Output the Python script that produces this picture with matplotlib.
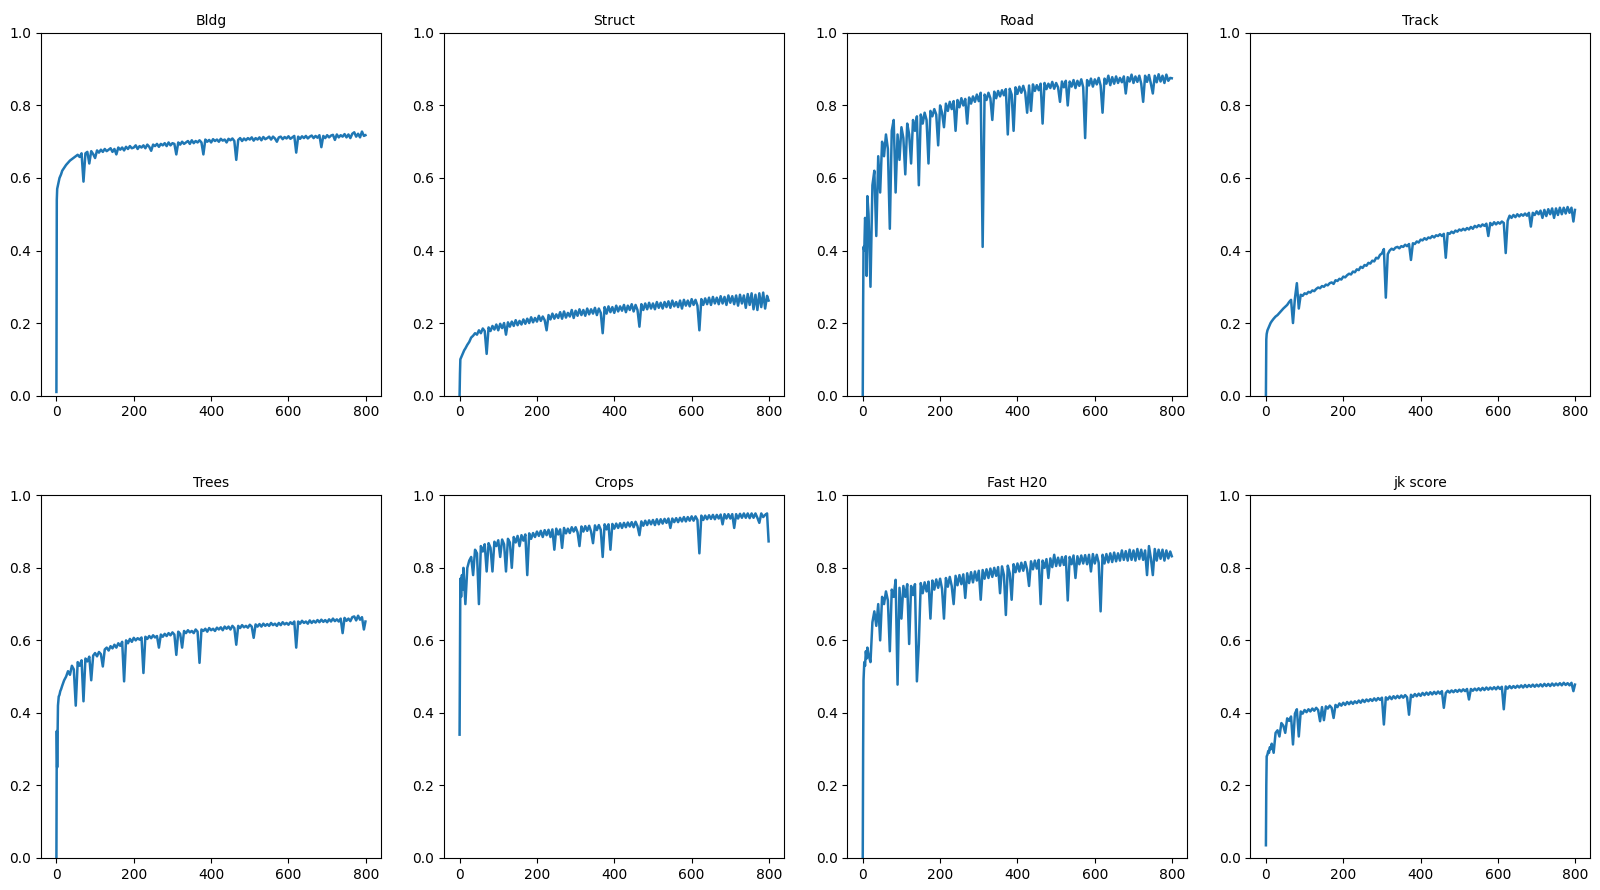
import matplotlib
matplotlib.use("Agg")
import matplotlib.pyplot as plt

epochs = [0, 1, 2, 4, 6, 8, 10, 12, 15] + list(range(20, 800, 5)) + [799]

titles = ["Bldg", "Struct", "Road", "Track", "Trees", "Crops", "Fast H20", "jk score"]

bldg = [0.01, 0.54, 0.57, 0.58, 0.59, 0.60, 0.605, 0.61, 0.62,
        0.628, 0.636, 0.642, 0.648, 0.652, 0.656, 0.66, 0.664, 0.658, 0.668,
        0.59, 0.668, 0.672, 0.64, 0.674, 0.666, 0.655, 0.676, 0.67, 0.678,
        0.672, 0.68, 0.674, 0.678, 0.682, 0.672, 0.68, 0.665, 0.684, 0.678,
        0.684, 0.676, 0.686, 0.68, 0.688, 0.682, 0.684, 0.69, 0.68, 0.688,
        0.684, 0.69, 0.682, 0.692, 0.686, 0.675, 0.692, 0.688, 0.694, 0.686,
        0.694, 0.69, 0.696, 0.688, 0.698, 0.69, 0.696, 0.694, 0.665, 0.698,
        0.692, 0.70, 0.694, 0.698, 0.702, 0.694, 0.704, 0.696, 0.702, 0.698,
        0.704, 0.698, 0.665, 0.706, 0.70, 0.705, 0.698, 0.707, 0.702, 0.706,
        0.70, 0.708, 0.703, 0.706, 0.698, 0.708, 0.704, 0.709, 0.702, 0.65,
        0.705, 0.71, 0.702, 0.709, 0.704, 0.71, 0.706, 0.712, 0.703, 0.71,
        0.706, 0.712, 0.704, 0.713, 0.707, 0.71, 0.714, 0.706, 0.714, 0.709,
        0.70, 0.712, 0.714, 0.707, 0.713, 0.709, 0.715, 0.708, 0.712, 0.716,
        0.67, 0.714, 0.708, 0.715, 0.71, 0.716, 0.709, 0.714, 0.717, 0.71,
        0.716, 0.711, 0.718, 0.685, 0.716, 0.71, 0.718, 0.712, 0.717, 0.719,
        0.705, 0.72, 0.712, 0.718, 0.714, 0.721, 0.712, 0.72, 0.71, 0.722,
        0.726, 0.714, 0.722, 0.712, 0.728, 0.716,
        0.718]

struct = [0.0, 0.06, 0.10, 0.105, 0.11, 0.115, 0.12, 0.125, 0.13,
          0.14, 0.148, 0.16, 0.165, 0.172, 0.168, 0.18, 0.172, 0.185, 0.178,
          0.115, 0.188, 0.178, 0.192, 0.182, 0.196, 0.18, 0.198, 0.186, 0.20,
          0.168, 0.202, 0.19, 0.204, 0.192, 0.208, 0.194, 0.206, 0.196, 0.21,
          0.198, 0.212, 0.20, 0.216, 0.202, 0.214, 0.204, 0.22, 0.206, 0.218,
          0.208, 0.18, 0.222, 0.21, 0.226, 0.212, 0.224, 0.214, 0.23, 0.212,
          0.232, 0.215, 0.228, 0.218, 0.236, 0.214, 0.234, 0.22, 0.238, 0.222,
          0.236, 0.22, 0.24, 0.224, 0.238, 0.226, 0.242, 0.222, 0.24, 0.228,
          0.172, 0.244, 0.226, 0.246, 0.23, 0.244, 0.228, 0.248, 0.232, 0.246,
          0.234, 0.25, 0.23, 0.248, 0.236, 0.252, 0.232, 0.25, 0.236, 0.19,
          0.252, 0.236, 0.254, 0.238, 0.256, 0.24, 0.254, 0.238, 0.258, 0.242,
          0.256, 0.24, 0.258, 0.244, 0.26, 0.242, 0.262, 0.246, 0.258, 0.244,
          0.262, 0.24, 0.264, 0.248, 0.262, 0.246, 0.266, 0.25, 0.264, 0.248,
          0.18, 0.266, 0.25, 0.268, 0.252, 0.27, 0.25, 0.272, 0.254, 0.27,
          0.252, 0.274, 0.254, 0.272, 0.25, 0.276, 0.256, 0.274, 0.252, 0.276,
          0.248, 0.278, 0.254, 0.276, 0.242, 0.28, 0.25, 0.282, 0.238, 0.278,
          0.236, 0.282, 0.244, 0.284, 0.24, 0.275,
          0.262]

road = [0.0, 0.25, 0.41, 0.40, 0.49, 0.47, 0.33, 0.55, 0.50,
        0.30, 0.58, 0.62, 0.44, 0.66, 0.56, 0.70, 0.66, 0.72, 0.68,
        0.46, 0.73, 0.76, 0.56, 0.72, 0.65, 0.74, 0.71, 0.61, 0.75,
        0.72, 0.64, 0.76, 0.73, 0.77, 0.58, 0.775, 0.75, 0.78, 0.76,
        0.64, 0.785, 0.77, 0.79, 0.775, 0.69, 0.80, 0.78, 0.74, 0.805,
        0.785, 0.81, 0.79, 0.812, 0.73, 0.815, 0.795, 0.82, 0.80, 0.818,
        0.75, 0.822, 0.805, 0.825, 0.81, 0.83, 0.812, 0.835, 0.41, 0.83,
        0.815, 0.835, 0.82, 0.76, 0.838, 0.82, 0.84, 0.825, 0.842, 0.828,
        0.845, 0.72, 0.846, 0.83, 0.73, 0.85, 0.832, 0.852, 0.835, 0.854,
        0.836, 0.78, 0.855, 0.785, 0.858, 0.84, 0.856, 0.842, 0.86, 0.75,
        0.862, 0.845, 0.86, 0.848, 0.865, 0.846, 0.862, 0.85, 0.81, 0.866,
        0.85, 0.868, 0.80, 0.866, 0.852, 0.87, 0.848, 0.868, 0.854, 0.872,
        0.85, 0.71, 0.87, 0.855, 0.874, 0.852, 0.872, 0.858, 0.876, 0.855,
        0.78, 0.874, 0.86, 0.882, 0.856, 0.878, 0.86, 0.88, 0.862, 0.876,
        0.864, 0.88, 0.833, 0.878, 0.866, 0.885, 0.862, 0.88, 0.865, 0.882,
        0.86, 0.81, 0.882, 0.865, 0.884, 0.86, 0.833, 0.882, 0.864, 0.886,
        0.866, 0.882, 0.862, 0.885, 0.868, 0.876,
        0.875]

track = [0.0, 0.155, 0.17, 0.18, 0.185, 0.19, 0.195, 0.20, 0.205,
         0.212, 0.218, 0.222, 0.228, 0.234, 0.24, 0.245, 0.25, 0.258, 0.264,
         0.20, 0.268, 0.31, 0.24, 0.278, 0.275, 0.282, 0.28, 0.286, 0.284,
         0.29, 0.288, 0.294, 0.298, 0.296, 0.302, 0.30, 0.306, 0.304, 0.31,
         0.312, 0.308, 0.318, 0.316, 0.322, 0.32, 0.328, 0.326, 0.332, 0.336,
         0.334, 0.342, 0.34, 0.348, 0.346, 0.355, 0.352, 0.36, 0.358, 0.366,
         0.364, 0.372, 0.37, 0.38, 0.378, 0.388, 0.392, 0.404, 0.27, 0.39,
         0.40, 0.405, 0.402, 0.408, 0.41, 0.406, 0.412, 0.41, 0.416, 0.412,
         0.418, 0.374, 0.42, 0.418, 0.425, 0.422, 0.43, 0.428, 0.434, 0.43,
         0.436, 0.434, 0.44, 0.436, 0.442, 0.44, 0.445, 0.44, 0.446, 0.38,
         0.448, 0.446, 0.452, 0.448, 0.455, 0.452, 0.458, 0.455, 0.46, 0.456,
         0.462, 0.458, 0.465, 0.46, 0.468, 0.464, 0.47, 0.466, 0.472, 0.468,
         0.474, 0.44, 0.476, 0.47, 0.478, 0.472, 0.478, 0.474, 0.48, 0.476,
         0.393, 0.482, 0.496, 0.49, 0.498, 0.492, 0.50, 0.494, 0.50, 0.496,
         0.502, 0.496, 0.504, 0.466, 0.504, 0.498, 0.508, 0.50, 0.51, 0.49,
         0.512, 0.495, 0.514, 0.50, 0.516, 0.49, 0.516, 0.498, 0.518, 0.50,
         0.518, 0.502, 0.52, 0.504, 0.518, 0.48,
         0.512]

trees = [0.0, 0.35, 0.25, 0.42, 0.445, 0.45, 0.46, 0.465, 0.475,
         0.49, 0.50, 0.515, 0.505, 0.53, 0.52, 0.42, 0.54, 0.53, 0.545,
         0.432, 0.55, 0.542, 0.555, 0.49, 0.558, 0.565, 0.556, 0.568, 0.562,
         0.528, 0.575, 0.58, 0.572, 0.584, 0.578, 0.588, 0.58, 0.592, 0.585,
         0.596, 0.487, 0.60, 0.592, 0.604, 0.596, 0.607, 0.60, 0.606, 0.602,
         0.608, 0.51, 0.61, 0.604, 0.612, 0.606, 0.614, 0.608, 0.612, 0.58,
         0.616, 0.61, 0.618, 0.612, 0.62, 0.614, 0.622, 0.616, 0.56, 0.624,
         0.618, 0.58, 0.626, 0.62, 0.628, 0.622, 0.626, 0.62, 0.63, 0.624,
         0.538, 0.63, 0.626, 0.632, 0.624, 0.634, 0.628, 0.632, 0.626, 0.635,
         0.63, 0.636, 0.628, 0.638, 0.632, 0.638, 0.63, 0.64, 0.634, 0.588,
         0.64, 0.634, 0.642, 0.636, 0.64, 0.635, 0.643, 0.638, 0.607, 0.644,
         0.638, 0.645, 0.638, 0.646, 0.64, 0.645, 0.64, 0.648, 0.642, 0.646,
         0.64, 0.648, 0.642, 0.65, 0.644, 0.648, 0.643, 0.65, 0.645, 0.652,
         0.58, 0.652, 0.646, 0.654, 0.648, 0.652, 0.646, 0.655, 0.648, 0.654,
         0.649, 0.656, 0.65, 0.657, 0.651, 0.656, 0.65, 0.658, 0.652, 0.66,
         0.653, 0.658, 0.652, 0.66, 0.62, 0.662, 0.654, 0.66, 0.653, 0.664,
         0.666, 0.655, 0.668, 0.657, 0.664, 0.63,
         0.652]

crops = [0.34, 0.56, 0.77, 0.72, 0.78, 0.74, 0.80, 0.76, 0.70,
         0.80, 0.82, 0.83, 0.78, 0.85, 0.84, 0.70, 0.86, 0.845, 0.865,
         0.79, 0.868, 0.855, 0.79, 0.872, 0.86, 0.876, 0.83, 0.878, 0.865,
         0.79, 0.88, 0.87, 0.80, 0.885, 0.87, 0.888, 0.86, 0.89, 0.875,
         0.892, 0.78, 0.895, 0.88, 0.896, 0.885, 0.90, 0.888, 0.902, 0.885,
         0.904, 0.89, 0.905, 0.885, 0.906, 0.85, 0.908, 0.892, 0.906, 0.855,
         0.91, 0.895, 0.908, 0.896, 0.912, 0.90, 0.912, 0.898, 0.86, 0.914,
         0.90, 0.915, 0.902, 0.916, 0.90, 0.868, 0.917, 0.904, 0.918, 0.905,
         0.83, 0.92, 0.906, 0.92, 0.85, 0.921, 0.908, 0.922, 0.91, 0.923,
         0.91, 0.924, 0.912, 0.925, 0.914, 0.926, 0.912, 0.927, 0.915, 0.89,
         0.928, 0.916, 0.93, 0.918, 0.931, 0.92, 0.932, 0.918, 0.934, 0.92,
         0.934, 0.922, 0.935, 0.924, 0.936, 0.91, 0.936, 0.926, 0.937, 0.926,
         0.938, 0.928, 0.94, 0.928, 0.94, 0.93, 0.942, 0.93, 0.942, 0.932,
         0.84, 0.944, 0.932, 0.944, 0.934, 0.945, 0.935, 0.946, 0.934, 0.946,
         0.936, 0.947, 0.92, 0.948, 0.936, 0.948, 0.936, 0.948, 0.91, 0.948,
         0.936, 0.949, 0.938, 0.95, 0.938, 0.95, 0.937, 0.95, 0.938, 0.95,
         0.938, 0.924, 0.95, 0.94, 0.946, 0.95,
         0.873]

fast_h20 = [0.0, 0.30, 0.49, 0.54, 0.53, 0.57, 0.55, 0.58, 0.56,
            0.54, 0.65, 0.68, 0.64, 0.70, 0.60, 0.72, 0.70, 0.735, 0.71,
            0.57, 0.74, 0.72, 0.767, 0.478, 0.745, 0.66, 0.75, 0.72, 0.755,
            0.59, 0.75, 0.725, 0.755, 0.487, 0.59, 0.758, 0.73, 0.76, 0.735,
            0.762, 0.66, 0.765, 0.74, 0.768, 0.745, 0.77, 0.742, 0.66, 0.772,
            0.748, 0.775, 0.75, 0.70, 0.778, 0.752, 0.78, 0.755, 0.782, 0.717,
            0.785, 0.758, 0.788, 0.76, 0.79, 0.765, 0.792, 0.712, 0.794, 0.77,
            0.796, 0.772, 0.798, 0.775, 0.80, 0.778, 0.802, 0.73, 0.804, 0.78,
            0.67, 0.806, 0.785, 0.712, 0.81, 0.788, 0.812, 0.79, 0.814, 0.792,
            0.816, 0.795, 0.75, 0.818, 0.796, 0.82, 0.798, 0.822, 0.70, 0.82,
            0.80, 0.824, 0.772, 0.826, 0.802, 0.836, 0.805, 0.828, 0.806, 0.83,
            0.808, 0.832, 0.71, 0.83, 0.81, 0.834, 0.772, 0.832, 0.81, 0.834,
            0.812, 0.835, 0.81, 0.836, 0.79, 0.838, 0.812, 0.836, 0.814, 0.68,
            0.836, 0.812, 0.838, 0.815, 0.84, 0.816, 0.842, 0.818, 0.84, 0.82,
            0.848, 0.822, 0.846, 0.82, 0.85, 0.822, 0.848, 0.82, 0.852, 0.824,
            0.85, 0.822, 0.848, 0.78, 0.86, 0.826, 0.78, 0.852, 0.82, 0.85,
            0.825, 0.85, 0.82, 0.848, 0.826, 0.845,
            0.832]

jk_score = [0.035, 0.20, 0.28, 0.285, 0.295, 0.29, 0.305, 0.30, 0.315,
            0.29, 0.345, 0.352, 0.335, 0.372, 0.365, 0.345, 0.385, 0.378, 0.39,
            0.313, 0.398, 0.41, 0.335, 0.404, 0.398, 0.408, 0.402, 0.41, 0.404,
            0.412, 0.406, 0.414, 0.408, 0.377, 0.416, 0.38, 0.418, 0.412, 0.42,
            0.414, 0.386, 0.422, 0.416, 0.426, 0.42, 0.428, 0.422, 0.43, 0.424,
            0.431, 0.425, 0.432, 0.427, 0.434, 0.428, 0.436, 0.43, 0.437, 0.432,
            0.438, 0.433, 0.44, 0.434, 0.441, 0.436, 0.442, 0.368, 0.443, 0.437,
            0.445, 0.438, 0.446, 0.44, 0.447, 0.441, 0.448, 0.442, 0.449, 0.443,
            0.395, 0.45, 0.444, 0.452, 0.446, 0.453, 0.447, 0.455, 0.449, 0.456,
            0.45, 0.457, 0.451, 0.458, 0.452, 0.459, 0.453, 0.46, 0.414, 0.455,
            0.461, 0.456, 0.462, 0.457, 0.463, 0.458, 0.464, 0.459, 0.465, 0.46,
            0.466, 0.437, 0.466, 0.461, 0.467, 0.462, 0.468, 0.462, 0.469, 0.463,
            0.47, 0.464, 0.47, 0.465, 0.471, 0.465, 0.472, 0.466, 0.472, 0.41,
            0.473, 0.467, 0.474, 0.468, 0.474, 0.469, 0.475, 0.47, 0.476, 0.47,
            0.477, 0.471, 0.477, 0.472, 0.478, 0.472, 0.478, 0.473, 0.479, 0.473,
            0.48, 0.474, 0.48, 0.474, 0.481, 0.475, 0.481, 0.476, 0.482, 0.476,
            0.483, 0.477, 0.482, 0.476, 0.483, 0.46,
            0.478]

series = [bldg, struct, road, track, trees, crops, fast_h20, jk_score]

fig, axes = plt.subplots(2, 4, figsize=(16, 8.9), dpi=100)
plt.subplots_adjust(left=0.0256, right=0.994, top=0.963, bottom=0.036,
                    wspace=0.186, hspace=0.275)

for ax, title, vals in zip(axes.flat, titles, series):
    ax.plot(epochs, vals, color="#1f77b4", linewidth=1.8)
    ax.set_ylim(0, 1.0)
    ax.set_xticks([0, 200, 400, 600, 800])
    ax.set_title(title, fontsize=10)

plt.savefig("out.png", dpi=100)
